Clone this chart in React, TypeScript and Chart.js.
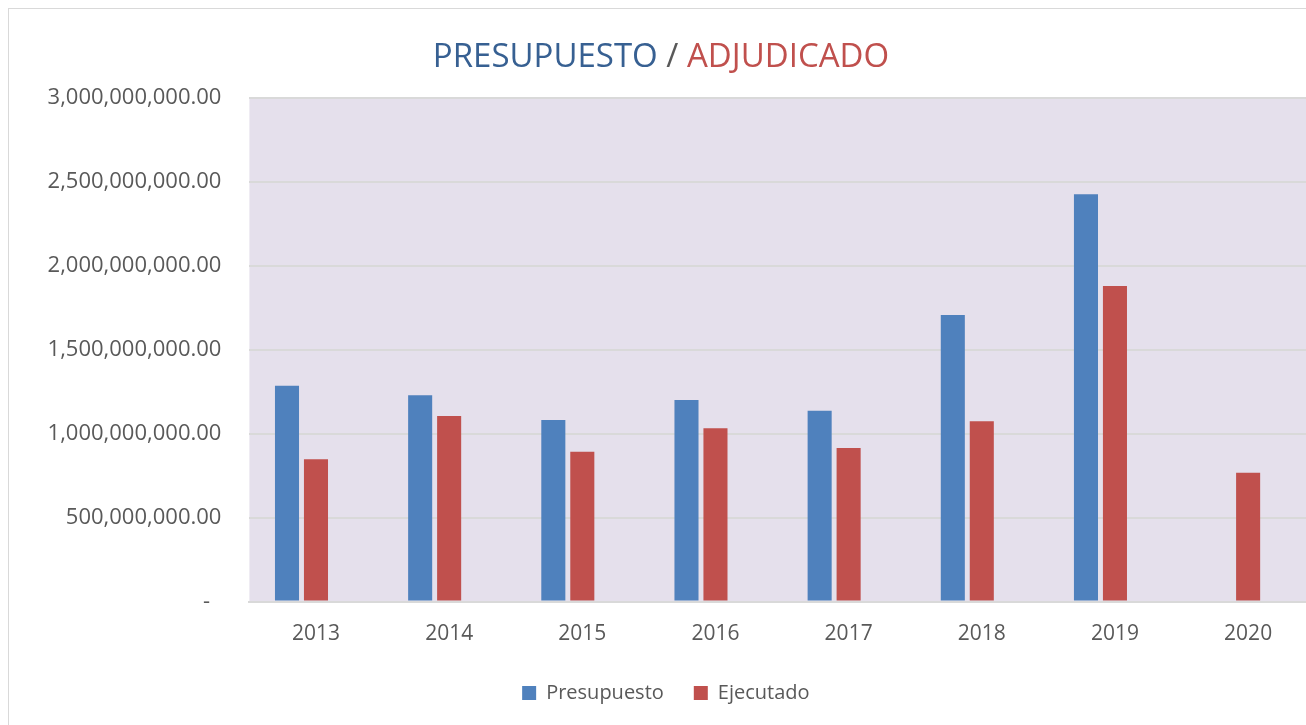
import { useEffect, useRef } from "react";
import { Chart, registerables } from "chart.js";

Chart.register(...registerables);

const years = ["2013", "2014", "2015", "2016", "2017", "2018", "2019", "2020"];
const presupuesto = [1284e6, 1227e6, 1080e6, 1199e6, 1136e6, 1705e6, 2424e6, null];
const ejecutado = [846e6, 1104e6, 892e6, 1031e6, 914e6, 1073e6, 1878e6, 767e6];
const emptySeries = [null, null, null, null, null, null, null, null];

const titleParts = [
  { text: "PRESUPUESTO", color: "#376092" },
  { text: " / ", color: "#595959" },
  { text: "ADJUDICADO", color: "#c0504d" },
];

const FONT = "'Open Sans', 'Liberation Sans', sans-serif";

const plotBg = {
  id: "plotBg",
  beforeDraw(chart: any) {
    const { ctx, chartArea } = chart;
    ctx.save();
    ctx.fillStyle = "#e5e0ec";
    ctx.fillRect(chartArea.left, chartArea.top, chartArea.right - chartArea.left, chartArea.bottom - chartArea.top);
    ctx.restore();
  },
};

const multiTitle = {
  id: "multiTitle",
  afterDraw(chart: any) {
    const { ctx } = chart;
    ctx.save();
    ctx.font = `33px ${FONT}`;
    ctx.textBaseline = "alphabetic";
    ctx.textAlign = "left";
    const total = titleParts.reduce((s, p) => s + ctx.measureText(p.text).width, 0);
    let x = 652 - total / 2;
    for (const p of titleParts) {
      ctx.fillStyle = p.color;
      ctx.fillText(p.text, x, 58);
      x += ctx.measureText(p.text).width;
    }
    ctx.restore();
  },
};

export default function App() {
  const ref = useRef<HTMLCanvasElement>(null);

  useEffect(() => {
    if (!ref.current) return;
    const chart = new Chart(ref.current, {
      type: "bar",
      data: {
        labels: years,
        datasets: [
          {
            label: "Presupuesto",
            data: presupuesto,
            backgroundColor: "#4f81bd",
            barPercentage: 0.83,
            categoryPercentage: 0.653,
          },
          {
            label: "Ejecutado",
            data: ejecutado,
            backgroundColor: "#c0504d",
            barPercentage: 0.83,
            categoryPercentage: 0.653,
          },
          {
            label: "",
            data: emptySeries,
            backgroundColor: "rgba(0,0,0,0)",
            barPercentage: 0.83,
            categoryPercentage: 0.653,
          },
        ],
      },
      options: {
        responsive: false,
        animation: false,
        devicePixelRatio: 1,
        layout: { padding: { top: 88.5, left: 8, right: 8.3, bottom: 36 } },
        plugins: {
          title: { display: false },
          tooltip: { enabled: false },
          legend: {
            position: "bottom",
            labels: {
              boxWidth: 14,
              boxHeight: 14,
              padding: 30,
              color: "#595959",
              font: { family: FONT, size: 20 },
              filter: (item: any) => item.text !== "",
            },
          },
        },
        scales: {
          x: {
            grid: { display: false, drawTicks: false },
            border: { display: true, color: "#d9d9d9", width: 2 },
            ticks: { color: "#595959", font: { family: FONT, size: 21 }, padding: 20 },
            afterFit: (scale: any) => {
              scale.height = 51.5;
            },
          },
          y: {
            min: 0,
            max: 3000000000,
            grid: { color: "#d9d9d9", lineWidth: 2, drawTicks: false },
            border: { display: false },
            ticks: {
              stepSize: 500000000,
              color: "#595959",
              padding: 28,
              font: { family: FONT, size: 22 },
              callback: (v: any) =>
                Number(v) === 0
                  ? "-  "
                  : Number(v).toLocaleString("en-US", { minimumFractionDigits: 2, maximumFractionDigits: 2 }),
            },
            afterFit: (scale: any) => {
              scale.width = 232.4;
            },
          },
        },
      },
      plugins: [plotBg, multiTitle],
    });
    return () => chart.destroy();
  }, []);

  return (
    <div style={{ position: "fixed", left: 0, top: 0, width: "100vw", height: "100vh", overflow: "hidden", background: "#fff" }}>
      <div
        style={{
          position: "absolute",
          left: 8,
          top: 8,
          width: 1316,
          height: 760,
          border: "1px solid #d9d9d9",
          boxSizing: "border-box",
          background: "#fff",
        }}
      >
        <canvas ref={ref} width={1314} height={740} style={{ display: "block", width: 1314, height: 740 }} />
      </div>
    </div>
  );
}
